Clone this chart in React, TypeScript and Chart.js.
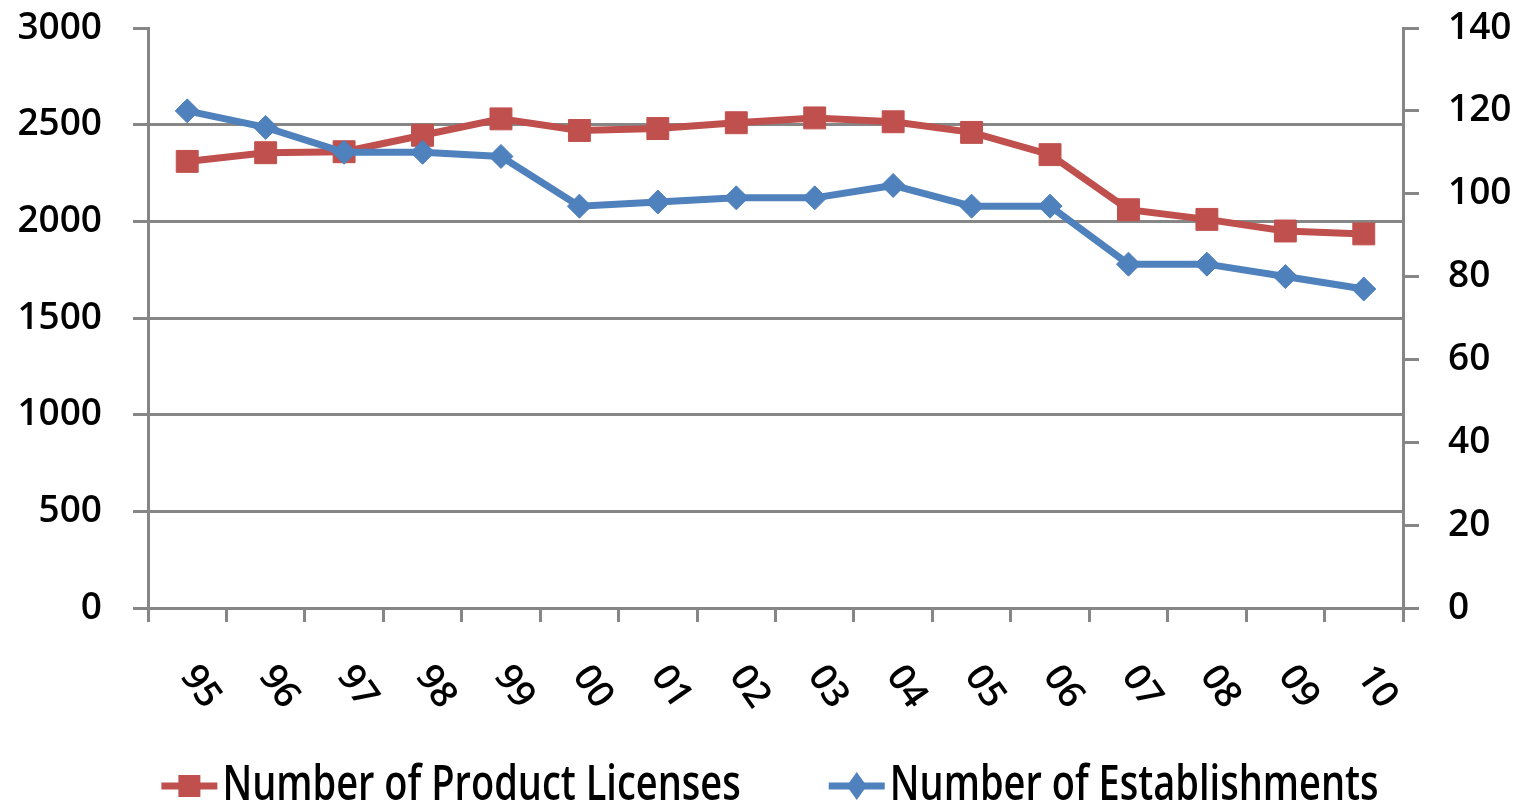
import React, { useEffect, useRef } from "react";
import { Chart, registerables } from "chart.js";

Chart.register(...registerables);

const years = ["95", "96", "97", "98", "99", "00", "01", "02", "03", "04", "05", "06", "07", "08", "09", "10"];
const productLicenses = [2310, 2355, 2360, 2445, 2530, 2470, 2480, 2510, 2535, 2515, 2460, 2345, 2060, 2010, 1950, 1935];
const establishments = [120, 116, 110, 110, 109, 97, 98, 99, 99, 102, 97, 97, 83, 83, 80, 77];
const seriesNames = ["Number of Product Licenses", "Number of Establishments"];

const RED = "#C0504D";
const BLUE = "#4F81BD";
const GRAY = "#868686";
const FONT = "'Open Sans'";
const FS = 37;
const LEGEND_FS = 38;
const WEIGHT = "600";

const rotatedXLabels = {
  id: "rotatedXLabels",
  afterDraw(chart: any) {
    const xs = chart.scales.x;
    const ctx = chart.ctx;
    ctx.save();
    ctx.font = `${WEIGHT} ${FS}px ${FONT}`;
    ctx.fillStyle = "#000";
    ctx.textAlign = "center";
    ctx.textBaseline = "middle";
    years.forEach((lab, i) => {
      const px = xs.getPixelForValue(i) + 13;
      const py = xs.top + 79;
      ctx.save();
      ctx.translate(px, py);
      ctx.rotate((55 * Math.PI) / 180);
      ctx.fillText(lab, 0, 0);
      ctx.restore();
    });
    ctx.restore();
  },
};

const customLegend = {
  id: "customLegend",
  afterDraw(chart: any) {
    const ctx = chart.ctx;
    ctx.save();
    ctx.font = `${WEIGHT} ${LEGEND_FS}px ${FONT}`;
    ctx.textBaseline = "middle";
    ctx.textAlign = "left";
    const markW = 56;
    const textGap = 5;
    const itemGap = 88;
    const w1 = ctx.measureText(seriesNames[0]).width;
    const w2 = ctx.measureText(seriesNames[1]).width;
    const total = markW + textGap + w1 + itemGap + markW + textGap + w2;
    let x = 770 - total / 2;
    const y = 786;
    const drawText = (t: string, tx: number) => {
      ctx.save();
      ctx.translate(tx, y);
      ctx.scale(1, 1.27);
      ctx.fillStyle = "#000";
      ctx.fillText(t, 0, 0);
      ctx.restore();
    };
    ctx.strokeStyle = RED;
    ctx.lineWidth = 7;
    ctx.beginPath();
    ctx.moveTo(x, y);
    ctx.lineTo(x + markW, y);
    ctx.stroke();
    ctx.fillStyle = RED;
    ctx.fillRect(x + markW / 2 - 11, y - 11, 22, 22);
    drawText(seriesNames[0], x + markW + textGap);
    x += markW + textGap + w1 + itemGap;
    ctx.strokeStyle = BLUE;
    ctx.beginPath();
    ctx.moveTo(x, y);
    ctx.lineTo(x + markW, y);
    ctx.stroke();
    ctx.fillStyle = BLUE;
    const cx = x + markW / 2;
    ctx.beginPath();
    ctx.moveTo(cx, y - 14);
    ctx.lineTo(cx + 10, y);
    ctx.lineTo(cx, y + 14);
    ctx.lineTo(cx - 10, y);
    ctx.closePath();
    ctx.fill();
    drawText(seriesNames[1], x + markW + textGap);
    ctx.restore();
  },
};

const noVerticalPadding = (s: any) => {
  s.paddingTop = 0;
  s.paddingBottom = 0;
};

export default function App() {
  const ref = useRef<HTMLCanvasElement | null>(null);
  useEffect(() => {
    document.body.style.margin = "0";
    const canvas = ref.current;
    if (!canvas) return;
    const chart = new Chart(canvas, {
      type: "line",
      data: {
        labels: years,
        datasets: [
          {
            label: seriesNames[1],
            data: establishments,
            yAxisID: "y1",
            borderColor: BLUE,
            backgroundColor: BLUE,
            borderWidth: 7,
            tension: 0,
            pointStyle: "rectRot",
            pointRadius: 12,
            pointBorderWidth: 1,
            pointBackgroundColor: BLUE,
            pointBorderColor: BLUE,
          },
          {
            label: seriesNames[0],
            data: productLicenses,
            yAxisID: "y",
            borderColor: RED,
            backgroundColor: RED,
            borderWidth: 7,
            tension: 0,
            pointStyle: "rect",
            pointRadius: 15.5,
            pointBorderWidth: 1,
            pointBackgroundColor: RED,
            pointBorderColor: RED,
          },
        ],
      },
      options: {
        animation: false,
        responsive: true,
        maintainAspectRatio: false,
        layout: { padding: { top: 28, bottom: 0, left: 0, right: 0 } },
        plugins: {
          legend: { display: false },
          tooltip: { enabled: false },
        },
        scales: {
          x: {
            type: "category",
            offset: true,
            grid: {
              offset: true,
              drawOnChartArea: false,
              drawTicks: true,
              tickLength: 14,
              color: GRAY,
              lineWidth: 3,
            },
            border: { display: true, color: GRAY, width: 3 },
            ticks: { display: false },
            afterFit: (s: any) => {
              s.height = 199;
              s.paddingLeft = 0;
              s.paddingRight = 0;
            },
          },
          y: {
            position: "left",
            min: 0,
            max: 3000,
            ticks: {
              stepSize: 500,
              color: "#000",
              font: { family: FONT, size: FS, weight: WEIGHT },
              padding: 31,
              callback: (v: any) => String(v),
            },
            grid: {
              color: (c: any) => (c.tick && c.tick.value === 3000 ? "rgba(0,0,0,0)" : GRAY),
              tickColor: GRAY,
              lineWidth: 3,
              tickLength: 15,
            },
            border: { display: true, color: GRAY, width: 3 },
            afterFit: (s: any) => {
              s.width = 148;
              noVerticalPadding(s);
            },
          },
          y1: {
            position: "right",
            min: 0,
            max: 140,
            ticks: {
              stepSize: 20,
              color: "#000",
              font: { family: FONT, size: FS, weight: WEIGHT },
              padding: 29,
              callback: (v: any) => String(v),
            },
            grid: {
              drawOnChartArea: false,
              color: GRAY,
              lineWidth: 3,
              tickLength: 16,
            },
            border: { display: true, color: GRAY, width: 3 },
            afterFit: (s: any) => {
              s.width = 124;
              noVerticalPadding(s);
            },
          },
        },
      },
      plugins: [rotatedXLabels, customLegend],
    });
    return () => chart.destroy();
  }, []);
  return (
    <div style={{ width: "1527px", height: "807px", position: "relative", background: "#fff" }}>
      <canvas ref={ref} />
    </div>
  );
}
